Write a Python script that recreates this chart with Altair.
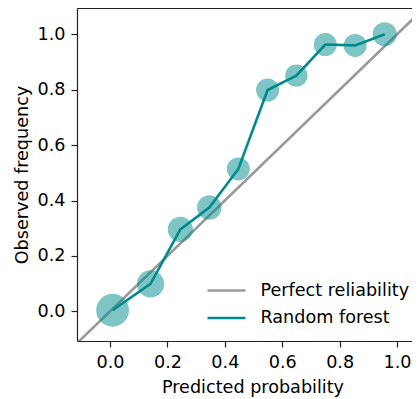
import altair as alt
import pandas as pd

# Reliability-diagram data
pred = [0.009, 0.141, 0.245, 0.346, 0.447, 0.549, 0.649, 0.750, 0.854, 0.957]
obs = [0.004, 0.099, 0.296, 0.375, 0.514, 0.799, 0.851, 0.963, 0.960, 1.000]
bin_count = [215, 148, 126, 120, 106, 106, 100, 106, 106, 117]
diag = [-0.2, 1.2]
series = ["Perfect reliability", "Random forest"]
ticks = [0.0, 0.2, 0.4, 0.6, 0.8, 1.0]

FONT = "DejaVu Sans"
TEAL = "#008b8b"
GRAY = "#9a9a9a"
SPINE = "#222"

pts = pd.DataFrame({"pred": pred, "obs": obs, "count": bin_count,
                    "series": series[1]})
dg = pd.DataFrame({"pred": diag, "obs": diag, "series": series[0]})

xs = alt.Scale(domain=[-0.115, 1.052], nice=False, zero=False)
ys = alt.Scale(domain=[-0.107, 1.095], nice=False, zero=False)
xax = alt.Axis(values=ticks, format=".1f", title="Predicted probability", grid=False,
               titleX=175.5, titleAlign="center", titlePadding=8, orient="bottom")
xtop = alt.Axis(orient="top", title=None, labels=False, ticks=False, grid=False,
                domain=True)
yax = alt.Axis(values=ticks, format=".1f", title="Observed frequency", grid=False)
color = alt.Color("series:N",
                  scale=alt.Scale(domain=series, range=[GRAY, TEAL]),
                  legend=alt.Legend(title=None, orient="none", legendX=138.5, legendY=271.5,
                                    symbolType="M-2,0H2", symbolSize=361,
                                    symbolStrokeWidth=2.7, labelOffset=23,
                                    rowPadding=7.5, padding=0,
                                    labelFont=FONT, labelFontSize=17.6, labelColor="#000"))

diag_line = alt.Chart(dg).mark_line(strokeWidth=2.6, clip=True).encode(
    x=alt.X("pred:Q", scale=xs, axis=xax),
    y=alt.Y("obs:Q", scale=ys, axis=yax),
    color=color,
)

circles = alt.Chart(pts).mark_circle(color=TEAL, opacity=0.5, clip=True).encode(
    x=alt.X("pred:Q", scale=xs, axis=xtop),
    y=alt.Y("obs:Q", scale=ys),
    size=alt.Size("count:Q", scale=alt.Scale(domain=[0, 215], range=[0, 1075], zero=True),
                  legend=None),
)

rf_line = alt.Chart(pts).mark_line(strokeWidth=2.6, clip=True).encode(
    x=alt.X("pred:Q", scale=xs, axis=None),
    y=alt.Y("obs:Q", scale=ys),
    color=color,
)

chart = alt.layer(diag_line, circles, rf_line).resolve_axis(x="independent").properties(
    width=335, height=333,
    autosize=alt.AutoSizeParams(type="none"),
    padding={"left": 69, "top": 0, "right": 0, "bottom": 60},
).configure_view(stroke=None).configure_axis(
    domain=True, domainColor=SPINE, domainWidth=1.2,
    ticks=True, tickSize=6, tickWidth=1.2, tickColor=SPINE,
    labelFont=FONT, labelFontSize=17.6, labelColor="#000", labelPadding=6,
    titleFont=FONT, titleFontSize=17.6, titleFontWeight="normal", titleColor="#000",
    titlePadding=6,
)

chart.save("out.html", embed_options={"renderer": "svg", "actions": False})
